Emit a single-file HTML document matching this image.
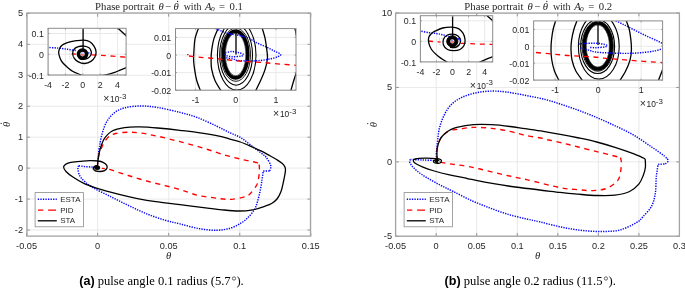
<!DOCTYPE html><html><head><meta charset="utf-8"><style>html,body{margin:0;padding:0;background:#fff;}svg{display:block;will-change:transform}</style></head><body>
<svg width="685" height="289" viewBox="0 0 685 289" font-family='"Liberation Sans", sans-serif' fill="#262626">
<path d="M26.6 13.4V236.2 M97.65 13.4V236.2 M168.7 13.4V236.2 M239.75 13.4V236.2 M310.8 13.4V236.2 M26.6 230.01H310.8 M26.6 199.07H310.8 M26.6 168.12H310.8 M26.6 137.18H310.8 M26.6 106.23H310.8 M26.6 75.29H310.8 M26.6 44.34H310.8 M26.6 13.4H310.8" stroke="#e3e3e3" stroke-width="0.8" fill="none"/>
<path d="M97.6 167.2C96.8 167.2 94.6 167.1 92.5 167C90.4 166.9 87.3 166.8 85 166.6C82.7 166.4 79.8 165.9 78.8 165.8" fill="none" stroke="#0000ff" stroke-width="1.45" stroke-dasharray="1.3 1.2"/>
<path d="M78.8 165.8C78.7 166.2 77.6 166.5 77.9 168.4C78.2 170.3 78.4 174.2 80.7 177.3C83 180.4 86.8 183.6 91.7 186.8C96.6 190 103.9 193.2 110 196.3C116.1 199.4 122.2 202.5 128.3 205.4C134.4 208.3 140.5 211.3 146.6 213.8C152.7 216.3 159.4 218.5 165 220.2C170.6 221.9 174.4 222.5 180 223.9C185.6 225.3 192.2 227.4 198.3 228.5C204.4 229.6 211.2 230.4 216.7 230.3C222.2 230.2 227.1 229.1 231.3 227.8C235.6 226.5 239.2 224.3 242.2 222.3C245.2 220.3 247.3 218.2 249.4 216C251.5 213.8 253.5 211.2 254.8 208.8C256.2 206.4 256.6 204.6 257.5 201.6C258.4 198.6 259.4 194.4 260.2 190.8C260.9 187.2 261.5 183.3 262 180C262.5 176.7 263 172.4 263.2 170.9" fill="none" stroke="#0000ff" stroke-width="1.45" stroke-dasharray="1.3 1.2"/>
<path d="M263.2 170.9C264.3 170.9 268.7 170.9 269.8 170.9" fill="none" stroke="#0000ff" stroke-width="1.45" stroke-dasharray="1.3 1.2"/>
<path d="M269.8 170.9C269.9 170 271.3 167.7 270.7 165.4C270.1 163.1 267.4 159 266.1 157.2C264.9 155.4 265.8 156.6 263.2 154.6C260.6 152.6 254.6 148 250.8 145.2C247 142.3 243.9 139.6 240.4 137.5C236.9 135.4 233.9 134.7 230 132.8C226.1 130.9 222 128.7 216.7 126.2C211.4 123.7 204.4 120.2 198.3 117.9C192.2 115.6 186.8 114.1 180 112.4C173.2 110.7 164.1 108.6 157.6 107.5C151.1 106.4 146.6 106 141.1 106C135.6 106 129.2 106.6 124.6 107.8C120 109 116.8 110.8 113.7 113.3C110.7 115.8 108.3 118.8 106.3 122.5C104.3 126.2 102.8 131.2 101.7 135.3C100.6 139.4 100 143.6 99.4 147C98.8 150.4 98.6 153.2 98.3 156C98 158.8 97.7 162.7 97.6 164" fill="none" stroke="#0000ff" stroke-width="1.45" stroke-dasharray="1.3 1.2"/>
<ellipse cx="95.5" cy="168.5" rx="3" ry="2.7" fill="none" stroke="#8888aa" stroke-width="0.8" stroke-dasharray="0.8 1"/>
<path d="M97.6 167.4C97.6 166.5 97.5 164.4 97.8 161.8C98.1 159.2 98.8 154.3 99.4 152.1C100 149.9 100.5 150 101.2 148.6C101.9 147.2 102.4 145.5 103.6 143.6C104.8 141.7 106.2 138.9 108.2 137.2C110.2 135.5 112.2 134.3 115.5 133.5C118.8 132.7 124 132.3 128.3 132.2C132.6 132.1 136.2 132.4 141.1 133.1C146 133.8 151.1 134.8 157.6 136.2C164.1 137.6 172.3 139.7 180 141.7C187.7 143.7 196.2 146 203.8 148.3C211.4 150.6 219.1 153.4 225.8 155.3C232.5 157.2 238.9 158.7 244.1 159.9C249.3 161.1 254.5 161.9 257 162.7C259.5 163.5 258.8 164.2 259.2 164.5" fill="none" stroke="#ff0000" stroke-width="1.35" stroke-dasharray="5 4.6"/>
<path d="M259.2 164.5C259.2 165.7 259.6 169.2 259.4 171.8C259.2 174.4 258.7 177.7 258.2 180C257.7 182.3 257.9 183.2 256.4 185.6C254.9 188 251.6 192.5 249.4 194.4C247.2 196.3 246.2 196.4 243.5 197.2C240.8 198 236.1 198.8 233.2 199.2C230.2 199.5 228.6 199.5 225.8 199.3C223.1 199.1 221.3 198.8 216.7 198.2C212.1 197.6 202.9 196.4 198.3 195.5C193.7 194.6 192.2 193.5 189.2 192.5C186.1 191.5 184 190.8 180 189.6C176 188.4 170.6 187 165 185.6C159.4 184.2 152.7 182.7 146.6 181C140.5 179.3 134.1 177.3 128.3 175.5C122.5 173.7 115.5 171.3 111.8 170.2C108.1 169.1 107.8 169.1 106.1 168.8C104.4 168.5 102.5 168.4 101.8 168.3" fill="none" stroke="#ff0000" stroke-width="1.35" stroke-dasharray="5 4.6"/>
<path d="M97.6 167.4C97.6 166.5 97.5 164.4 97.8 161.8C98.1 159.2 98.8 154.9 99.4 152.1C100 149.3 100.7 147.3 101.5 145C102.3 142.7 102.8 140.7 104.5 138.4C106.2 136.1 108.5 133 111.8 131.2C115.1 129.4 120 128.3 124.6 127.6C129.2 126.9 133.8 126.8 139.3 126.9C144.8 127 150.8 127.4 157.6 128C164.4 128.6 173.2 129.5 180 130.3C186.8 131.1 192.2 131.7 198.3 132.6C204.4 133.5 211.7 134.7 216.7 135.7C221.7 136.7 224.4 137.5 228.4 138.6C232.4 139.7 236.4 140.6 240.4 142C244.4 143.4 249.1 145.6 252.6 147.1C256.1 148.6 258.6 149.8 261.5 151.2C264.4 152.6 267.3 154.3 269.9 155.7C272.5 157.1 275 158.5 277 159.8C279 161.1 280.7 162.2 282 163.3C283.3 164.4 284.2 165.5 284.8 166.6C285.4 167.7 285.5 168.7 285.5 170C285.5 171.3 285.2 172.7 284.9 174.5C284.6 176.3 284.2 178.2 283.6 181C283 183.8 282.1 188.5 281 191.5C279.9 194.5 278.6 197 277 199C275.4 201 273.8 202.2 271.6 203.5C269.4 204.8 266.9 205.5 263.8 206.6C260.7 207.7 257.2 209.1 253 209.8C248.8 210.5 243.9 211 238.7 211C233.5 211 227.2 210.3 222 209.8C216.8 209.3 214.5 209 207.5 208.2C200.5 207.3 188.6 205.8 180 204.7C171.4 203.6 162.9 202.7 155.8 201.7C148.7 200.7 143.6 199.8 137.5 198.6C131.4 197.4 125.8 196.1 119.1 194.4C112.4 192.7 103 190.2 97.2 188.4C91.4 186.6 88.3 185.5 84.3 183.7C80.3 181.8 76.3 179.3 73.3 177.3C70.2 175.3 67.6 173.3 66 171.5C64.4 169.7 63.2 167.8 63.8 166.3C64.4 164.8 67 163.4 69.7 162.6C72.4 161.8 76.7 161.7 80 161.4C83.3 161.1 86.7 160.7 89.7 160.6C92.7 160.5 95.9 160.7 98.2 161C100.5 161.3 102.1 161.9 103.5 162.6C104.9 163.3 106 164.3 106.6 165.2C107.2 166.1 107.2 167.3 106.9 168.2C106.6 169.1 105.7 170 104.5 170.6C103.3 171.2 101.5 171.5 100 171.5C98.5 171.5 96.6 171.3 95.5 170.8C94.4 170.3 93.6 169.4 93.4 168.6C93.2 167.8 93.9 166.7 94.6 166.2C95.3 165.7 97 165.7 97.5 165.6" fill="none" stroke="#000000" stroke-width="1.3" stroke-linejoin="round"/>
<ellipse cx="97.2" cy="167.7" rx="2.9" ry="2.2" fill="#000"/>
<path d="M26.6 236.2v-3.3M26.6 13.4v3.3 M97.65 236.2v-3.3M97.65 13.4v3.3 M168.7 236.2v-3.3M168.7 13.4v3.3 M239.75 236.2v-3.3M239.75 13.4v3.3 M310.8 236.2v-3.3M310.8 13.4v3.3 M26.6 230.01h3.3M310.8 230.01h-3.3 M26.6 199.07h3.3M310.8 199.07h-3.3 M26.6 168.12h3.3M310.8 168.12h-3.3 M26.6 137.18h3.3M310.8 137.18h-3.3 M26.6 106.23h3.3M310.8 106.23h-3.3 M26.6 75.29h3.3M310.8 75.29h-3.3 M26.6 44.34h3.3M310.8 44.34h-3.3 M26.6 13.4h3.3M310.8 13.4h-3.3" stroke="#8a8a8a" stroke-width="0.9" fill="none"/>
<rect x="27" y="13" width="283.5" height="223.1" fill="none" stroke="#a4a4a4" stroke-width="1.3"/>
<text x="26.6" y="245.5" font-size="9.2" text-anchor="middle" dominant-baseline="central">-0.05</text>
<text x="97.65" y="245.5" font-size="9.2" text-anchor="middle" dominant-baseline="central">0</text>
<text x="168.7" y="245.5" font-size="9.2" text-anchor="middle" dominant-baseline="central">0.05</text>
<text x="239.75" y="245.5" font-size="9.2" text-anchor="middle" dominant-baseline="central">0.1</text>
<text x="310.8" y="245.5" font-size="9.2" text-anchor="middle" dominant-baseline="central">0.15</text>
<text x="23" y="230.01" font-size="9.2" text-anchor="end" dominant-baseline="central">-2</text>
<text x="23" y="199.07" font-size="9.2" text-anchor="end" dominant-baseline="central">-1</text>
<text x="23" y="168.12" font-size="9.2" text-anchor="end" dominant-baseline="central">0</text>
<text x="23" y="137.18" font-size="9.2" text-anchor="end" dominant-baseline="central">1</text>
<text x="23" y="106.23" font-size="9.2" text-anchor="end" dominant-baseline="central">2</text>
<text x="23" y="75.29" font-size="9.2" text-anchor="end" dominant-baseline="central">3</text>
<text x="23" y="44.34" font-size="9.2" text-anchor="end" dominant-baseline="central">4</text>
<text x="23" y="13.4" font-size="9.2" text-anchor="end" dominant-baseline="central">5</text>
<rect x="48.1" y="28.3" width="78" height="46.7" fill="#fff"/>
<path d="M48.1 28.3V75 M65.43 28.3V75 M82.77 28.3V75 M100.1 28.3V75 M117.43 28.3V75 M48.1 75H126.1 M48.1 54.24H126.1 M48.1 33.49H126.1" stroke="#e3e3e3" stroke-width="0.8" fill="none"/>
<clipPath id="cLi1"><rect x="48.1" y="28.3" width="78" height="46.7"/></clipPath>
<g clip-path="url(#cLi1)">
<path d="M47 47.4C48.8 47.5 54.6 47.8 58 48.1C61.4 48.4 64.5 48.9 67.5 49.3C70.5 49.7 74.5 50.3 75.9 50.5" fill="none" stroke="#0000ff" stroke-width="1.45" stroke-dasharray="1.3 1.2"/>
<path d="M88.2 52.6C88.7 52.8 90.8 53.4 91.3 53.6" fill="none" stroke="#0000ff" stroke-width="1.45" stroke-dasharray="1.3 1.2"/>
<path d="M71.6 53.8C72.3 53.9 75.3 54.1 76 54.2" fill="none" stroke="#ff0000" stroke-width="1.35" stroke-dasharray="5 4.6"/>
<path d="M91.5 54.8C93.1 54.9 97.5 55.2 101.1 55.4C104.7 55.6 108.7 55.9 113 56.2C117.3 56.5 124.7 57.1 127 57.3" fill="none" stroke="#ff0000" stroke-width="1.35" stroke-dasharray="5 4.6"/>
<path d="M83.1 27V50" fill="none" stroke="#000000" stroke-width="1.3" stroke-linejoin="round"/>
<path d="M116.5 27C117.2 27.7 119.2 29.4 121 31C122.8 32.6 126 35.6 127 36.5" fill="none" stroke="#000000" stroke-width="1.3" stroke-linejoin="round"/>
<path d="M96 76C97.7 75.8 102.7 75.6 105.9 74.9C109.1 74.2 111.9 73.3 115.4 72.1C118.9 70.8 125.1 68.2 127 67.4" fill="none" stroke="#000000" stroke-width="1.3" stroke-linejoin="round"/>
<path d="M82.5 76.5C82.1 76.2 81.8 75.4 80.2 74.6C78.6 73.8 75.1 72.7 73 71.5C70.9 70.3 69.3 68.9 67.6 67.4C65.8 65.9 63.8 64.1 62.5 62.5C61.2 60.9 60.6 59.6 60 58C59.4 56.4 58.8 54.6 58.7 53C58.6 51.4 59.1 49.8 59.6 48.5C60.1 47.2 60.9 46.1 62 45.2C63.1 44.3 64.5 43.8 66 43.2C67.5 42.6 69.3 42.1 71 41.7C72.7 41.3 74.3 41 76.4 40.7C78.5 40.4 81.4 39.9 83.6 40.1C85.8 40.3 88.1 40.7 89.8 41.7C91.5 42.7 93 44.6 94 46.2C95 47.8 95.8 49.8 96 51.5C96.2 53.2 95.8 55.1 95 56.7C94.2 58.4 92.6 60.3 90.9 61.4C89.2 62.5 86.8 63.4 84.7 63.5C82.6 63.6 80.1 62.8 78.4 61.9C76.7 61 75.2 59.7 74.3 58.3C73.3 56.9 72.7 55.1 72.7 53.6C72.7 52.1 73.3 50.1 74.3 49C75.2 47.9 76.8 47.2 78.4 46.7C80 46.2 82.2 45.9 84 46.1C85.8 46.3 87.8 46.9 89 47.8C90.2 48.7 90.9 50.2 91.2 51.5C91.5 52.8 91.2 54.4 90.6 55.5C90 56.6 88.8 57.8 87.5 58.4C86.2 59 84.4 59.4 83 59.4C81.6 59.4 79.7 58.5 79 58.3" fill="none" stroke="#000000" stroke-width="1.3" stroke-linejoin="round"/>
<circle cx="82.5" cy="54.1" r="4.1" fill="none" stroke="#000" stroke-width="3.6"/>
<path d="M80.8 55h3.4" stroke="#ff0000" stroke-width="1.1"/><path d="M81.2 53h2.5" stroke="#0000ff" stroke-width="0.8" stroke-dasharray="0.7 0.7"/>
<rect x="69.8" y="51.4" width="3.6" height="6.8" fill="none" stroke="#999" stroke-width="0.6" stroke-dasharray="0.7 1"/>
</g>
<path d="M48.1 75v-1.5M48.1 28.3v1.5 M65.43 75v-1.5M65.43 28.3v1.5 M82.77 75v-1.5M82.77 28.3v1.5 M100.1 75v-1.5M100.1 28.3v1.5 M117.43 75v-1.5M117.43 28.3v1.5 M48.1 75h1.5M126.1 75h-1.5 M48.1 54.24h1.5M126.1 54.24h-1.5 M48.1 33.49h1.5M126.1 33.49h-1.5" stroke="#8c8c8c" stroke-width="0.8" fill="none"/>
<rect x="48.1" y="28.3" width="78" height="46.7" fill="none" stroke="#8c8c8c" stroke-width="1"/>
<text x="48.1" y="84.8" font-size="8.8" text-anchor="middle" dominant-baseline="central">-4</text>
<text x="65.43" y="84.8" font-size="8.8" text-anchor="middle" dominant-baseline="central">-2</text>
<text x="82.77" y="84.8" font-size="8.8" text-anchor="middle" dominant-baseline="central">0</text>
<text x="100.1" y="84.8" font-size="8.8" text-anchor="middle" dominant-baseline="central">2</text>
<text x="117.43" y="84.8" font-size="8.8" text-anchor="middle" dominant-baseline="central">4</text>
<text x="43.8" y="75.6" font-size="8.8" text-anchor="end" dominant-baseline="central">-0.1</text>
<text x="43.8" y="54.84" font-size="8.8" text-anchor="end" dominant-baseline="central">0</text>
<text x="43.8" y="34.09" font-size="8.8" text-anchor="end" dominant-baseline="central">0.1</text>
<text x="126.4" y="102" font-size="8.4" text-anchor="end"><tspan font-size="10.5">×</tspan><tspan dx="0.7">10</tspan><tspan dy="-3.5" font-size="7.9">-3</tspan></text>
<rect x="175.5" y="28.6" width="120.5" height="61.6" fill="#fff"/>
<path d="M195.58 28.6V90.2 M235.75 28.6V90.2 M275.92 28.6V90.2 M175.5 90.2H296 M175.5 72.6H296 M175.5 55H296 M175.5 37.4H296" stroke="#e3e3e3" stroke-width="0.8" fill="none"/>
<clipPath id="cLi2"><rect x="175.5" y="28.6" width="120.5" height="61.6"/></clipPath>
<g clip-path="url(#cLi2)">
<path d="M199 27C198.3 28.9 195.9 34.6 195.1 38.4C194.3 42.2 194.2 46.2 194 49.8C193.8 53.4 193.5 56.7 193.6 60C193.7 63.3 194.1 65.9 194.6 69.4C195.1 72.9 195.7 77 196.8 80.8C197.9 84.6 200.3 90.1 201 92" fill="none" stroke="#000000" stroke-width="1.3" stroke-linejoin="round"/>
<path d="M294.5 27C294.7 27.7 295.2 29.4 295.5 31C295.8 32.6 296.3 35.6 296.5 36.5" fill="none" stroke="#000000" stroke-width="1.3" stroke-linejoin="round"/>
<path d="M297.2 70C296.6 71.8 294.8 77.1 293.7 80.8C292.6 84.5 291 90.1 290.5 92" fill="none" stroke="#000000" stroke-width="1.3" stroke-linejoin="round"/>
<path d="M218.8 27C218 28.9 215.2 34.6 214 38.4C212.8 42.2 212.2 46.2 211.7 49.8C211.2 53.4 211.1 56.7 211.1 60C211.1 63.3 211 65.9 211.7 69.4C212.4 72.9 213.4 77 215.1 80.8C216.8 84.6 220.7 90.1 221.8 92" fill="none" stroke="#000000" stroke-width="1.3" stroke-linejoin="round"/>
<path d="M261.8 27C262.4 28.9 264.3 34.6 265.1 38.4C265.9 42.2 266.4 46.4 266.8 49.8C267.2 53.2 267.7 55.7 267.4 59C267.1 62.3 266.2 65.8 265.1 69.4C264 73 262.2 77 260.5 80.8C258.8 84.6 255.9 90.1 255 92" fill="none" stroke="#000000" stroke-width="1.3" stroke-linejoin="round"/>
<ellipse cx="236.7" cy="55.3" rx="19.3" ry="34.8" fill="none" stroke="#000000" stroke-width="1.1"/>
<ellipse cx="236.1" cy="55" rx="16.4" ry="30.2" fill="none" stroke="#000000" stroke-width="1.1"/>
<ellipse cx="235.8" cy="54.7" rx="14.7" ry="26.6" fill="none" stroke="#000000" stroke-width="0.9"/>
<ellipse cx="235.6" cy="54.5" rx="12.2" ry="23.4" fill="none" stroke="#000000" stroke-width="3.6"/>
<ellipse cx="235.6" cy="54.5" rx="10.2" ry="21.2" fill="none" stroke="#000000" stroke-width="0.6"/>
<path d="M236 27V54.5" fill="none" stroke="#000000" stroke-width="1.3" stroke-linejoin="round"/>
<path d="M213.5 27.6C214.6 28.1 217.8 29.5 219.9 30.4C222 31.2 223.7 32 226 32.7C228.3 33.4 231.3 34.2 233.5 34.6C235.7 35 236.5 34.8 238.9 35.4C241.3 36 245 36.7 248 38C251 39.3 254.1 41.5 257.1 43C260.2 44.5 263.5 45.7 266.3 47C269.1 48.3 271.8 49.8 274.2 51C276.6 52.2 279.9 53.4 280.5 54.4C281.1 55.4 279.5 55.9 277.7 56.7C275.9 57.5 272.6 58.4 269.7 59C266.8 59.6 263.3 60.2 260 60.5C256.7 60.8 253.7 61 250 61C246.3 61 240.5 60.8 237.7 60.5C234.9 60.2 235.4 59.5 233.4 59C231.4 58.5 226.7 58 225.4 57.8" fill="none" stroke="#0000ff" stroke-width="1.45" stroke-dasharray="1.3 1.2"/>
<path d="M225.4 52.7C226.5 52.5 229.8 51.5 232 51.5C234.2 51.5 237 52.2 238.9 52.7C240.8 53.2 243 53.8 243.4 54.4C243.8 55 243 55.7 241.1 56.1C239.2 56.5 234.6 56.8 232 56.7C229.4 56.6 226.9 56 225.8 55.3C224.7 54.6 225.5 53.1 225.4 52.7" fill="none" stroke="#0000ff" stroke-width="1.45" stroke-dasharray="1.3 1.2"/>
<path d="M189 56C190.3 56.1 194.4 56.6 196.8 56.9C199.2 57.2 200.8 57.4 203.7 57.6C206.6 57.9 210.9 58.1 214 58.4C217.1 58.7 219 59 222 59.3C225 59.6 228.4 59.9 232 60.3C235.6 60.6 239.6 61.1 243.4 61.4C247.2 61.7 251.4 61.8 254.8 62C258.2 62.2 261.1 62.4 264 62.6C266.9 62.8 268.8 63.1 272 63.4C275.2 63.7 279.2 64 283.4 64.3C287.6 64.6 294.7 65.2 297 65.4" fill="none" stroke="#ff0000" stroke-width="1.35" stroke-dasharray="5 4.6"/>
<rect x="187" y="54" width="1.5" height="1.2" fill="#ff0000"/>
</g>
<path d="M195.58 90.2v-1.5M195.58 28.6v1.5 M235.75 90.2v-1.5M235.75 28.6v1.5 M275.92 90.2v-1.5M275.92 28.6v1.5 M175.5 90.2h1.5M296 90.2h-1.5 M175.5 72.6h1.5M296 72.6h-1.5 M175.5 55h1.5M296 55h-1.5 M175.5 37.4h1.5M296 37.4h-1.5" stroke="#8c8c8c" stroke-width="0.8" fill="none"/>
<rect x="175.5" y="28.6" width="120.5" height="61.6" fill="none" stroke="#8c8c8c" stroke-width="1"/>
<text x="195.58" y="100" font-size="8.8" text-anchor="middle" dominant-baseline="central">-1</text>
<text x="235.75" y="100" font-size="8.8" text-anchor="middle" dominant-baseline="central">0</text>
<text x="275.92" y="100" font-size="8.8" text-anchor="middle" dominant-baseline="central">1</text>
<text x="171.2" y="90.8" font-size="8.8" text-anchor="end" dominant-baseline="central">-0.02</text>
<text x="171.2" y="73.2" font-size="8.8" text-anchor="end" dominant-baseline="central">-0.01</text>
<text x="171.2" y="55.6" font-size="8.8" text-anchor="end" dominant-baseline="central">0</text>
<text x="171.2" y="38" font-size="8.8" text-anchor="end" dominant-baseline="central">0.01</text>
<text x="296.3" y="117.2" font-size="8.4" text-anchor="end"><tspan font-size="10.5">×</tspan><tspan dx="0.7">10</tspan><tspan dy="-3.5" font-size="7.9">-3</tspan></text>
<path d="M395.6 13V236.3 M436.16 13V236.3 M476.71 13V236.3 M517.27 13V236.3 M557.83 13V236.3 M598.39 13V236.3 M638.94 13V236.3 M679.5 13V236.3 M395.6 236.3H679.5 M395.6 161.87H679.5 M395.6 87.43H679.5 M395.6 13H679.5" stroke="#e3e3e3" stroke-width="0.8" fill="none"/>
<path d="M436.5 160.5C434.2 160.4 427.3 160.2 423 160C418.7 159.8 412.6 159.6 410.5 159.5" fill="none" stroke="#0000ff" stroke-width="1.45" stroke-dasharray="1.3 1.2"/>
<path d="M410.5 159.5C410.3 159.8 409.4 160.5 409.5 161.4C409.6 162.3 410.1 163.6 411.4 165.2C412.7 166.8 414.6 168.9 417.1 171C419.7 173.1 422.9 175.3 426.7 177.6C430.5 179.9 435.6 182.7 440 185C444.4 187.3 448 188.9 453.3 191.5C458.6 194.1 465.6 197.9 471.7 200.7C477.8 203.4 483.9 205.7 490 208C496.1 210.3 502.2 212.6 508.3 214.4C514.4 216.2 521.3 217.8 526.6 219C531.9 220.2 535.1 220.8 540 221.9C544.9 223.1 550.8 224.7 556.1 225.9C561.5 227.1 566.8 228.2 572.1 229.1C577.5 229.9 582.9 230.6 588.2 231C593.6 231.4 598.9 231.7 604.2 231.5C609.6 231.3 614.9 231.4 620.3 229.9C625.7 228.4 632.7 224.8 636.4 222.7C640.1 220.6 640 219.9 642.5 217.2C645 214.4 649.5 210.2 651.6 206.2C653.7 202.2 654.5 198 655.3 193.3C656.1 188.6 655.9 181.8 656.2 178C656.5 174.2 656.8 173.1 657.1 170.8C657.4 168.5 657.9 165.5 658.1 164.4" fill="none" stroke="#0000ff" stroke-width="1.45" stroke-dasharray="1.3 1.2"/>
<path d="M658.1 164.4C659.3 164.3 664.2 164 665.4 163.9" fill="none" stroke="#0000ff" stroke-width="1.45" stroke-dasharray="1.3 1.2"/>
<path d="M665.4 163.9C665.9 163.4 668.2 162 668.1 160.7C668 159.4 667.2 158.5 664.5 156.2C661.8 153.9 656.7 150.5 651.6 147C646.5 143.5 639.8 138.7 634 135.3C628.2 131.9 622.6 129.3 616.6 126.5C610.6 123.7 604.4 120.8 598.3 118.2C592.2 115.6 586.1 113.2 580 110.9C573.9 108.6 567.8 106.5 561.7 104.5C555.6 102.5 549.4 100.5 543.3 99C537.2 97.5 531.2 96.5 525 95.3C518.8 94.1 511.9 92.7 506.3 92C500.7 91.3 496.5 91 491.6 91.1C486.7 91.2 481.9 91.6 477 92.6C472.1 93.6 466.6 95.2 462.3 97.2C458 99.2 454.4 101.5 451.3 104.5C448.2 107.5 446 111.5 444 115.5C442 119.5 440.5 124.1 439.4 128.3C438.3 132.6 438.1 136.9 437.6 141C437.1 145.1 436.6 149.7 436.4 152.9C436.2 156.1 436.5 158.8 436.5 160" fill="none" stroke="#0000ff" stroke-width="1.45" stroke-dasharray="1.3 1.2"/>
<path d="M437.2 161.2C437.2 159.2 436.6 152.6 437.1 149C437.6 145.4 438.8 142 440 139.5C441.2 137 442.8 135.5 444.5 134C446.2 132.5 447.6 131.3 450 130.5C452.4 129.7 454.8 129.7 458.7 129.2C462.6 128.7 467.8 127.5 473.3 127.4C478.8 127.3 485.5 127.6 491.6 128.3C497.7 129 504.4 130.2 510 131.4C515.6 132.6 519.5 134.1 525 135.3C530.5 136.5 539.3 137.6 543.3 138.4C547.3 139.2 545.4 139.2 548.8 140C552.2 140.8 558.8 142.1 563.7 143.3C568.6 144.5 572.8 145.6 578.3 147C583.8 148.4 591.2 150.2 596.7 151.6C602.2 153 607.3 154.2 611.3 155.2C615.3 156.2 619 157.2 620.5 157.6" fill="none" stroke="#ff0000" stroke-width="1.35" stroke-dasharray="5 4.6"/>
<path d="M620.5 157.6C620.6 158.6 621.5 160.3 621.4 163.5C621.2 166.7 620.7 173.5 619.6 176.8C618.5 180.1 617.3 181.2 615 183.2C612.7 185.2 609.5 187.5 605.8 188.7C602.1 189.9 597.6 190.4 593 190.6C588.4 190.8 583.8 190.2 578.3 189.7C572.8 189.2 568.6 189.3 560 187.6C551.4 185.9 535.8 181.7 526.6 179.6C517.4 177.5 512.4 176.8 504.6 175C496.8 173.2 486.3 170.5 480 169C473.7 167.5 471.1 167 466.7 166.2C462.2 165.4 457.6 164.9 453.3 164.3C449 163.7 443.1 162.7 441 162.4" fill="none" stroke="#ff0000" stroke-width="1.35" stroke-dasharray="5 4.6"/>
<path d="M437.2 161.2C437.2 159.2 436.6 152.6 437.1 149C437.6 145.4 438.8 142 440 139.5C441.2 137 442.8 135.6 444.5 134C446.2 132.4 447.9 131.1 450 130C452.1 128.9 452.9 128.3 456.8 127.4C460.7 126.5 467.5 125.2 473.3 124.7C479.1 124.2 485.5 124.4 491.6 124.7C497.7 125 504.4 125.8 510 126.5C515.6 127.2 519.5 127.9 525 128.7C530.5 129.5 537.2 130.4 543.3 131.4C549.4 132.4 555.8 133.5 561.7 134.6C567.7 135.7 573.2 136.8 579 138C584.8 139.2 590.7 140.4 596.7 142C602.7 143.6 608.9 145.4 615 147.3C621.1 149.2 629 152 633.3 153.6C637.6 155.2 639 155.9 641 156.8C643 157.7 644.5 158.6 645.2 158.9" fill="none" stroke="#000000" stroke-width="1.3" stroke-linejoin="round"/>
<path d="M645.2 158.9C645.2 160.3 645.7 164.5 645.4 167.2C645.1 169.9 644.5 172.2 643.4 175C642.3 177.8 641.1 181.4 638.8 184.2C636.5 186.9 633.6 189.7 629.6 191.5C625.6 193.3 620.5 194.5 615 195.2C609.5 195.9 602.8 195.7 596.7 195.5C590.6 195.3 584.4 194.7 578.3 194.2C572.2 193.7 571.7 193.8 560 192.4C548.3 191 523 188.2 508.3 186C493.6 183.8 478.9 180.8 471.7 179.4C464.4 178 468.5 178.6 464.8 177.8C461.1 177 454.6 175.9 449.5 174.8C444.4 173.7 438.7 172.3 434.3 171C429.9 169.7 426.1 168.4 422.9 167.1C419.7 165.8 416.8 164.4 415.2 163.3C413.6 162.2 413.3 161.2 413.3 160.5C413.3 159.8 413.3 159.4 415.2 159C417.1 158.6 421.3 158.3 424.8 158.2C428.3 158.1 433.6 158.4 436.2 158.6C438.8 158.8 439.6 159 440.5 159.5C441.4 160 441.5 160.9 441.3 161.5C441.1 162.1 440.6 162.9 439.5 163.2C438.4 163.4 436 163.3 435 163C434 162.7 433.4 161.8 433.5 161.3C433.6 160.8 434.7 160 435.5 159.8C436.3 159.6 438 160.1 438.5 160.2" fill="none" stroke="#000000" stroke-width="1.3" stroke-linejoin="round"/>
<ellipse cx="437.3" cy="161.4" rx="2.6" ry="1.7" fill="#000"/><ellipse cx="438.9" cy="161.9" rx="0.9" ry="0.8" fill="#fff"/>
<path d="M395.6 236.3v-3.3M395.6 13v3.3 M436.16 236.3v-3.3M436.16 13v3.3 M476.71 236.3v-3.3M476.71 13v3.3 M517.27 236.3v-3.3M517.27 13v3.3 M557.83 236.3v-3.3M557.83 13v3.3 M598.39 236.3v-3.3M598.39 13v3.3 M638.94 236.3v-3.3M638.94 13v3.3 M679.5 236.3v-3.3M679.5 13v3.3 M395.6 236.3h3.3M679.5 236.3h-3.3 M395.6 161.87h3.3M679.5 161.87h-3.3 M395.6 87.43h3.3M679.5 87.43h-3.3 M395.6 13h3.3M679.5 13h-3.3" stroke="#8a8a8a" stroke-width="0.9" fill="none"/>
<rect x="395.6" y="13.1" width="283.8" height="223.1" fill="none" stroke="#a4a4a4" stroke-width="1.3"/>
<text x="395.6" y="245.6" font-size="9.2" text-anchor="middle" dominant-baseline="central">-0.05</text>
<text x="436.16" y="245.6" font-size="9.2" text-anchor="middle" dominant-baseline="central">0</text>
<text x="476.71" y="245.6" font-size="9.2" text-anchor="middle" dominant-baseline="central">0.05</text>
<text x="517.27" y="245.6" font-size="9.2" text-anchor="middle" dominant-baseline="central">0.1</text>
<text x="557.83" y="245.6" font-size="9.2" text-anchor="middle" dominant-baseline="central">0.15</text>
<text x="598.39" y="245.6" font-size="9.2" text-anchor="middle" dominant-baseline="central">0.2</text>
<text x="638.94" y="245.6" font-size="9.2" text-anchor="middle" dominant-baseline="central">0.25</text>
<text x="679.5" y="245.6" font-size="9.2" text-anchor="middle" dominant-baseline="central">0.3</text>
<text x="392" y="236.3" font-size="9.2" text-anchor="end" dominant-baseline="central">-5</text>
<text x="392" y="161.87" font-size="9.2" text-anchor="end" dominant-baseline="central">0</text>
<text x="392" y="87.43" font-size="9.2" text-anchor="end" dominant-baseline="central">5</text>
<text x="392" y="13" font-size="9.2" text-anchor="end" dominant-baseline="central">10</text>
<rect x="420.4" y="15.7" width="72.3" height="46.2" fill="#fff"/>
<path d="M420.4 15.7V61.9 M436.47 15.7V61.9 M452.53 15.7V61.9 M468.6 15.7V61.9 M484.67 15.7V61.9 M420.4 61.9H492.7 M420.4 41.37H492.7 M420.4 20.83H492.7" stroke="#e3e3e3" stroke-width="0.8" fill="none"/>
<clipPath id="cRi1"><rect x="420.4" y="15.7" width="72.3" height="46.2"/></clipPath>
<g clip-path="url(#cRi1)">
<path d="M419 30.9C420.7 31.2 426 32.2 429.2 32.7C432.4 33.2 435.2 33.2 438.2 33.8C441.2 34.3 443.4 35.1 447.2 36C450.9 36.9 458.4 38.8 460.7 39.4" fill="none" stroke="#0000ff" stroke-width="1.45" stroke-dasharray="1.3 1.2"/>
<path d="M428 41C430.1 41.2 438.4 42 440.5 42.2" fill="none" stroke="#ff0000" stroke-width="1.35" stroke-dasharray="5 4.6"/>
<path d="M460.7 43.3C462.2 43.3 466.3 43.5 469.7 43.6C473.1 43.7 476.9 44 481 44.1C485.1 44.2 491.8 44.4 494 44.4" fill="none" stroke="#ff0000" stroke-width="1.35" stroke-dasharray="5 4.6"/>
<path d="M452.6 15V37" fill="none" stroke="#000000" stroke-width="1.3" stroke-linejoin="round"/>
<path d="M486.5 15C487.1 15.6 488.8 17.2 490 18.3C491.2 19.4 493.3 21.2 494 21.8" fill="none" stroke="#000000" stroke-width="1.3" stroke-linejoin="round"/>
<path d="M477 63.5C478.4 62.9 482.6 60.8 485.4 59.6C488.2 58.4 492.6 56.8 494 56.2" fill="none" stroke="#000000" stroke-width="1.3" stroke-linejoin="round"/>
<path d="M450 64C448 62.7 441.3 58.6 438.2 56.2C435.1 53.8 433.1 51.8 431.5 49.5C429.9 47.2 429.1 44.8 428.7 42.7C428.3 40.6 428.4 38.5 428.9 37C429.4 35.5 430.5 34.5 431.5 33.5C432.5 32.5 433 32.1 434.9 31.2C436.8 30.3 439.9 28.7 442.7 28C445.5 27.3 449.1 27 451.7 27.1C454.3 27.2 456.6 27.6 458.5 28.6C460.4 29.6 461.9 31.4 463 33.2C464.1 35 464.8 37.5 465 39.5C465.2 41.5 464.8 43.8 464 45.5C463.2 47.2 461.7 48.6 460 49.5C458.3 50.4 456.1 50.7 454 50.7C451.9 50.7 449.2 50.5 447.5 49.5C445.8 48.5 444.1 46.8 443.5 45C442.9 43.2 443 40.6 443.6 39C444.2 37.4 445.5 36.1 447 35.3C448.5 34.5 450.7 34.1 452.5 34.2C454.3 34.3 456.7 35 458 36C459.3 37 460.3 39 460.5 40.5C460.7 42 459.9 43.8 459 45C458.1 46.2 456.5 47.1 455 47.5C453.5 47.9 450.8 47.3 450 47.3" fill="none" stroke="#000000" stroke-width="1.3" stroke-linejoin="round"/>
<circle cx="452.3" cy="41.4" r="3.9" fill="none" stroke="#000" stroke-width="3.5"/>
<circle cx="452.3" cy="41.3" r="5.6" fill="none" stroke="#000" stroke-width="0.9"/>
<path d="M450.6 42h3.4" stroke="#ff0000" stroke-width="1.1"/><path d="M451 40.3h2.5" stroke="#0000ff" stroke-width="0.8" stroke-dasharray="0.7 0.7"/>
<rect x="439.4" y="38.2" width="3.3" height="6.8" fill="none" stroke="#999" stroke-width="0.6" stroke-dasharray="0.7 1"/>
<path d="M457.5 38.5C458.1 38.8 460.4 40.2 461 40.5" fill="none" stroke="#0000ff" stroke-width="1.45" stroke-dasharray="1.3 1.2"/>
</g>
<path d="M420.4 61.9v-1.5M420.4 15.7v1.5 M436.47 61.9v-1.5M436.47 15.7v1.5 M452.53 61.9v-1.5M452.53 15.7v1.5 M468.6 61.9v-1.5M468.6 15.7v1.5 M484.67 61.9v-1.5M484.67 15.7v1.5 M420.4 61.9h1.5M492.7 61.9h-1.5 M420.4 41.37h1.5M492.7 41.37h-1.5 M420.4 20.83h1.5M492.7 20.83h-1.5" stroke="#8c8c8c" stroke-width="0.8" fill="none"/>
<rect x="420.4" y="15.7" width="72.3" height="46.2" fill="none" stroke="#8c8c8c" stroke-width="1"/>
<text x="420.4" y="71.7" font-size="8.8" text-anchor="middle" dominant-baseline="central">-4</text>
<text x="436.47" y="71.7" font-size="8.8" text-anchor="middle" dominant-baseline="central">-2</text>
<text x="452.53" y="71.7" font-size="8.8" text-anchor="middle" dominant-baseline="central">0</text>
<text x="468.6" y="71.7" font-size="8.8" text-anchor="middle" dominant-baseline="central">2</text>
<text x="484.67" y="71.7" font-size="8.8" text-anchor="middle" dominant-baseline="central">4</text>
<text x="416.1" y="62.5" font-size="8.8" text-anchor="end" dominant-baseline="central">-0.1</text>
<text x="416.1" y="41.97" font-size="8.8" text-anchor="end" dominant-baseline="central">0</text>
<text x="416.1" y="21.43" font-size="8.8" text-anchor="end" dominant-baseline="central">0.1</text>
<text x="493" y="88.9" font-size="8.4" text-anchor="end"><tspan font-size="10.5">×</tspan><tspan dx="0.7">10</tspan><tspan dy="-3.5" font-size="7.9">-3</tspan></text>
<rect x="533.6" y="20.9" width="129" height="59.2" fill="#fff"/>
<path d="M555.1 20.9V80.1 M598.1 20.9V80.1 M641.1 20.9V80.1 M533.6 80.1H662.6 M533.6 63.19H662.6 M533.6 46.27H662.6 M533.6 29.36H662.6" stroke="#e3e3e3" stroke-width="0.8" fill="none"/>
<clipPath id="cRi2"><rect x="533.6" y="20.9" width="129" height="59.2"/></clipPath>
<g clip-path="url(#cRi2)">
<path d="M556.3 19C555.8 20.7 554 25.5 553.2 29C552.4 32.5 551.9 36.5 551.5 40C551.1 43.5 551 46.7 551 50C551 53.3 551.2 56.6 551.8 60C552.3 63.4 553.1 67 554.3 70.5C555.5 74 558.4 79.2 559.2 81" fill="none" stroke="#000000" stroke-width="1.3" stroke-linejoin="round"/>
<path d="M577.7 19C577.1 20.7 575 25.5 574 29C573 32.5 572.1 36.5 571.6 40C571.1 43.5 570.9 46.7 571 50C571.1 53.3 571.2 56.6 572 60C572.8 63.4 573.8 67 575.6 70.5C577.4 74 581.6 79.2 582.8 81" fill="none" stroke="#000000" stroke-width="1.3" stroke-linejoin="round"/>
<path d="M625.6 19C626.2 20.7 628.3 25.6 629.2 29.1C630.1 32.6 630.5 36.6 630.9 40.1C631.3 43.6 631.5 46.7 631.4 50C631.3 53.3 631.1 56.2 630.1 59.8C629.1 63.4 627.2 68 625.4 71.5C623.6 75 620.5 79.4 619.5 81" fill="none" stroke="#000000" stroke-width="1.3" stroke-linejoin="round"/>
<path d="M664.2 65.5L658.2 81" fill="none" stroke="#000000" stroke-width="1.3" stroke-linejoin="round"/>
<ellipse cx="598.8" cy="46.6" rx="20.4" ry="32.5" fill="none" stroke="#000000" stroke-width="1.1"/>
<ellipse cx="597.6" cy="46.5" rx="17" ry="27" fill="none" stroke="#000000" stroke-width="1.1"/>
<ellipse cx="597.7" cy="46.2" rx="15.6" ry="25" fill="none" stroke="#000000" stroke-width="0.9"/>
<ellipse cx="597.8" cy="46" rx="13.5" ry="23" fill="none" stroke="#000000" stroke-width="3.6"/>
<ellipse cx="597.8" cy="46" rx="11.6" ry="21" fill="none" stroke="#000000" stroke-width="0.6"/>
<path d="M598 19V45.1" fill="none" stroke="#000000" stroke-width="1.3" stroke-linejoin="round"/>
<path d="M613.5 19.8C615.2 20.6 620.2 22.9 623.7 24.6C627.2 26.3 631.1 28.3 634.8 30.2C638.5 32 642.1 34 645.8 35.7C649.5 37.5 653.9 39.3 656.9 40.7C659.9 42.1 662.8 43.5 664 44" fill="none" stroke="#0000ff" stroke-width="1.45" stroke-dasharray="1.3 1.2"/>
<path d="M578.6 44C579.5 43.9 581.1 43.6 584.2 43.5C587.3 43.4 594 43 597.4 43.2C600.8 43.4 603.3 44.2 604.9 44.6C606.5 45 607.1 45.3 607.1 45.7C607.1 46.1 606.8 46.7 604.9 47C603 47.3 598.5 47.6 596 47.7C593.5 47.8 591 47.5 590 47.4" fill="none" stroke="#0000ff" stroke-width="1.45" stroke-dasharray="1.3 1.2"/>
<path d="M580.5 48C581.7 48.3 584.9 49.1 587.5 49.8C590.1 50.5 592.6 51.6 596 52.1C599.4 52.6 603.9 52.7 607.8 52.9C611.7 53.1 615.6 53.2 619.5 53.3C623.4 53.4 627.4 53.4 631.3 53.3C635.2 53.2 639.2 52.9 643.1 52.5C647 52.1 651.4 51.6 654.9 50.9C658.4 50.2 662.5 48.7 664 48.2" fill="none" stroke="#0000ff" stroke-width="1.45" stroke-dasharray="1.3 1.2"/>
<path d="M536 52.5C538.1 52.7 544.6 53.3 548.7 53.7C552.8 54.1 556.9 54.5 560.4 54.8C563.9 55.1 566.5 55.5 569.9 55.7C573.2 55.9 575.8 55.9 580.5 56.2C585.2 56.5 593.9 57 598.4 57.4C602.9 57.8 604.3 58.3 607.8 58.6C611.3 58.9 615.6 59.1 619.5 59.4C623.4 59.7 627.4 60.1 631.3 60.4C635.2 60.7 639.2 61 643.1 61.3C647 61.6 651.2 61.9 654.9 62.1C658.5 62.3 663.3 62.6 665 62.7" fill="none" stroke="#ff0000" stroke-width="1.35" stroke-dasharray="5 4.6"/>
</g>
<path d="M555.1 80.1v-1.5M555.1 20.9v1.5 M598.1 80.1v-1.5M598.1 20.9v1.5 M641.1 80.1v-1.5M641.1 20.9v1.5 M533.6 80.1h1.5M662.6 80.1h-1.5 M533.6 63.19h1.5M662.6 63.19h-1.5 M533.6 46.27h1.5M662.6 46.27h-1.5 M533.6 29.36h1.5M662.6 29.36h-1.5" stroke="#8c8c8c" stroke-width="0.8" fill="none"/>
<rect x="533.6" y="20.9" width="129" height="59.2" fill="none" stroke="#8c8c8c" stroke-width="1"/>
<text x="555.1" y="89.9" font-size="8.8" text-anchor="middle" dominant-baseline="central">-1</text>
<text x="598.1" y="89.9" font-size="8.8" text-anchor="middle" dominant-baseline="central">0</text>
<text x="641.1" y="89.9" font-size="8.8" text-anchor="middle" dominant-baseline="central">1</text>
<text x="529.3" y="80.7" font-size="8.8" text-anchor="end" dominant-baseline="central">-0.02</text>
<text x="529.3" y="63.79" font-size="8.8" text-anchor="end" dominant-baseline="central">-0.01</text>
<text x="529.3" y="46.87" font-size="8.8" text-anchor="end" dominant-baseline="central">0</text>
<text x="529.3" y="29.96" font-size="8.8" text-anchor="end" dominant-baseline="central">0.01</text>
<text x="662.9" y="107.1" font-size="8.4" text-anchor="end"><tspan font-size="10.5">×</tspan><tspan dx="0.7">10</tspan><tspan dy="-3.5" font-size="7.9">-3</tspan></text>
<g font-family='"Liberation Serif", serif' font-size="10.7">
<text x="95.1" y="9.5" textLength="59.3" lengthAdjust="spacingAndGlyphs">Phase portrait</text>
<text x="158.4" y="9.5" font-style="italic">θ</text>
<text x="165.1" y="9.5">−</text>
<text x="173.5" y="9.5" font-style="italic">θ</text>
<circle cx="177.6" cy="1.4" r="0.65"/>
<text x="183.7" y="9.5" textLength="17.7" lengthAdjust="spacingAndGlyphs">with</text>
<text x="205" y="9.5" font-style="italic">A</text>
<text x="210.9" y="11.1" font-style="italic" font-size="7.6">o</text>
<text x="219" y="9.5">=</text>
<text x="229.6" y="9.5">0.1</text>
</g>
<text x="168.7" y="259.4" font-family='"Liberation Serif", serif' font-size="10.7" font-style="italic" text-anchor="middle">θ</text>
<g font-family='"Liberation Serif", serif' font-size="10.7">
<text x="464.3" y="9.5" textLength="59.3" lengthAdjust="spacingAndGlyphs">Phase portrait</text>
<text x="527.6" y="9.5" font-style="italic">θ</text>
<text x="534.3" y="9.5">−</text>
<text x="542.7" y="9.5" font-style="italic">θ</text>
<circle cx="546.8" cy="1.4" r="0.65"/>
<text x="552.9" y="9.5" textLength="17.7" lengthAdjust="spacingAndGlyphs">with</text>
<text x="574.2" y="9.5" font-style="italic">A</text>
<text x="580.1" y="11.1" font-style="italic" font-size="7.6">o</text>
<text x="588.2" y="9.5">=</text>
<text x="598.8" y="9.5">0.2</text>
</g>
<text x="537.55" y="259.4" font-family='"Liberation Serif", serif' font-size="10.7" font-style="italic" text-anchor="middle">θ</text>
<text transform="translate(10.45 124.3) rotate(-90)" font-family='"Liberation Serif", serif' font-size="10.7" font-style="italic" text-anchor="middle">θ</text>
<circle cx="1.15" cy="123.4" r="0.65"/>
<text transform="translate(377 124.5) rotate(-90)" font-family='"Liberation Serif", serif' font-size="10.7" font-style="italic" text-anchor="middle">θ</text>
<circle cx="367.7" cy="123.6" r="0.65"/>
<rect x="35.1" y="192.6" width="48.3" height="34.2" fill="#fff" stroke="#8c8c8c" stroke-width="0.8"/>
<path d="M37.8 199.3h19" stroke="#0000ff" stroke-width="1.45" stroke-dasharray="1.3 1.25"/>
<path d="M38 210.1h5.3M48.1 210.1h7.9" stroke="#ff0000" stroke-width="1.35"/>
<path d="M37.8 220.8h19" stroke="#000" stroke-width="1.3"/>
<text x="60.2" y="199.3" font-size="8" dominant-baseline="central">ESTA</text>
<text x="60.2" y="210.05" font-size="8" dominant-baseline="central">PID</text>
<text x="60.2" y="220.8" font-size="8" dominant-baseline="central">STA</text>
<rect x="404.1" y="192.6" width="48.3" height="34.2" fill="#fff" stroke="#8c8c8c" stroke-width="0.8"/>
<path d="M406.8 199.3h19" stroke="#0000ff" stroke-width="1.45" stroke-dasharray="1.3 1.25"/>
<path d="M407 210.1h5.3M417.1 210.1h7.9" stroke="#ff0000" stroke-width="1.35"/>
<path d="M406.8 220.8h19" stroke="#000" stroke-width="1.3"/>
<text x="429.2" y="199.3" font-size="8" dominant-baseline="central">ESTA</text>
<text x="429.2" y="210.05" font-size="8" dominant-baseline="central">PID</text>
<text x="429.2" y="220.8" font-size="8" dominant-baseline="central">STA</text>
<text x="79.2" y="284.8" font-size="12.6" font-family='"Liberation Serif", serif' fill="#000"><tspan font-family='"Liberation Sans", sans-serif' font-weight="bold">(a)</tspan> pulse angle 0.1 radius (5.7</text>
<text x="236.4" y="284.8" font-size="12.6" font-family='"Liberation Serif", serif' fill="#000">).</text>
<circle cx="234" cy="278.5" r="1.65" fill="none" stroke="#000" stroke-width="0.6"/>
<text x="444.5" y="284.8" font-size="12.6" font-family='"Liberation Serif", serif' fill="#000"><tspan font-family='"Liberation Sans", sans-serif' font-weight="bold">(b)</tspan> pulse angle 0.2 radius (11.5</text>
<text x="608.6" y="284.8" font-size="12.6" font-family='"Liberation Serif", serif' fill="#000">).</text>
<circle cx="605.9" cy="278.5" r="1.65" fill="none" stroke="#000" stroke-width="0.6"/>
</svg></body></html>
